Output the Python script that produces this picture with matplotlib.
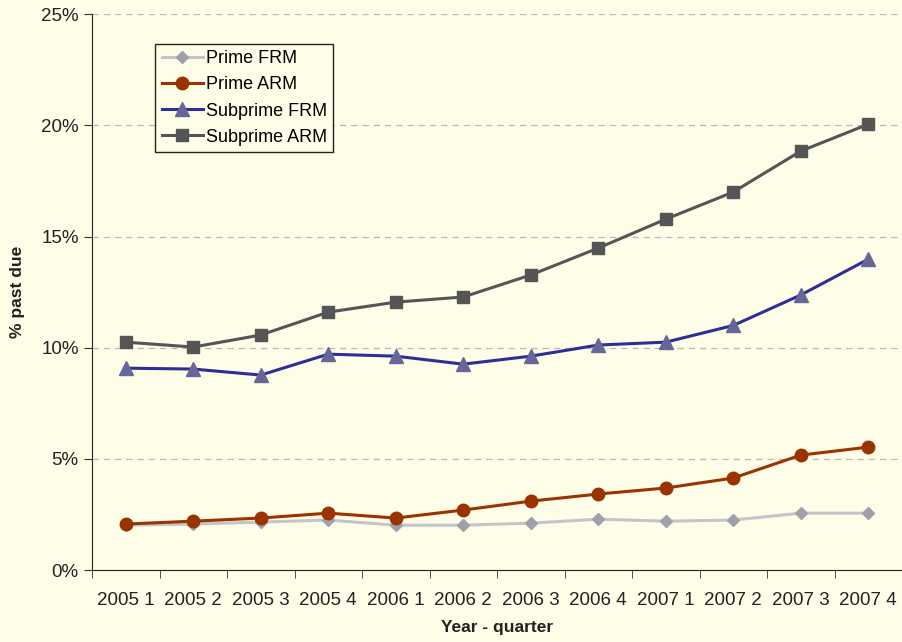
import matplotlib.pyplot as plt
import numpy as np
from matplotlib.ticker import FuncFormatter

quarters = ["2005 1", "2005 2", "2005 3", "2005 4", "2006 1", "2006 2",
            "2006 3", "2006 4", "2007 1", "2007 2", "2007 3", "2007 4"]
prime_frm = [2.02, 2.07, 2.16, 2.25, 2.02, 2.02, 2.11, 2.29, 2.20, 2.25, 2.56, 2.56]
prime_arm = [2.07, 2.20, 2.34, 2.56, 2.34, 2.70, 3.10, 3.42, 3.69, 4.14, 5.17, 5.53]
subprime_frm = [9.08, 9.04, 8.77, 9.71, 9.62, 9.26, 9.62, 10.12, 10.25, 11.00, 12.37, 13.98]
subprime_arm = [10.25, 10.03, 10.57, 11.60, 12.05, 12.28, 13.27, 14.48, 15.78, 17.00, 18.84, 20.05]

plt.rcParams['font.family'] = ['Liberation Sans', 'DejaVu Sans']
bg = '#FEFDE8'

fig = plt.figure(figsize=(9.02, 6.42), dpi=100, facecolor=bg)
ax = fig.add_axes([0.102, 0.112, 0.898, 0.866], facecolor=bg)

x = np.arange(len(quarters))
ax.plot(x, prime_frm, color='#C4C4CA', lw=2.2, marker='D', ms=6,
        mfc='#A0A0AA', mec='#A0A0AA', label='Prime FRM', zorder=3)
ax.plot(x, prime_arm, color='#993300', lw=2.2, marker='o', ms=9,
        mfc='#993300', mec='#993300', label='Prime ARM', zorder=4)
ax.plot(x, subprime_frm, color='#2E2E99', lw=2.2, marker='^', ms=10,
        mfc='#666699', mec='#666699', label='Subprime FRM', zorder=4)
ax.plot(x, subprime_arm, color='#555555', lw=2.2, marker='s', ms=9,
        mfc='#555555', mec='#555555', label='Subprime ARM', zorder=4)

ax.set_xlim(-0.5, len(quarters) - 0.5)
ax.set_ylim(0, 25)
ax.set_yticks([0, 5, 10, 15, 20, 25])
ax.yaxis.set_major_formatter(FuncFormatter(lambda v, p: '%d%%' % v))
ax.grid(axis='y', color='#B8B8B8', linestyle=(0, (5, 4)), lw=0.9)
ax.set_axisbelow(True)

ax.set_xticks(x)
ax.set_xticklabels(quarters)
ax.set_xticks(np.arange(-0.5, len(quarters)), minor=True)
ax.tick_params(axis='x', which='major', length=0, pad=16, labelsize=13.5, colors='#222222')
ax.tick_params(axis='x', which='minor', length=6, direction='out', color='#333333')
ax.tick_params(axis='y', length=6, direction='out', labelsize=13.5, colors='#222222', color='#333333')

for s in ['top', 'right']:
    ax.spines[s].set_visible(False)
ax.spines['left'].set_color('#222222')
ax.spines['bottom'].set_color('#222222')

ax.set_xlabel('Year - quarter', fontsize=12.5, fontweight='bold', color='#222222', labelpad=8)
ax.set_ylabel('% past due', fontsize=12.5, fontweight='bold', color='#222222', labelpad=12)

leg = ax.legend(loc='upper left', bbox_to_anchor=(0.078, 0.946), fontsize=13,
                frameon=True, fancybox=False, borderpad=0.35, handlelength=2.3,
                handletextpad=0.15, labelspacing=0.5, borderaxespad=0)
leg.get_frame().set_edgecolor('#222222')
leg.get_frame().set_facecolor(bg)
leg.get_frame().set_linewidth(1.0)
leg.get_frame().set_alpha(1)

fig.savefig('out.png', dpi=100, facecolor=bg)
